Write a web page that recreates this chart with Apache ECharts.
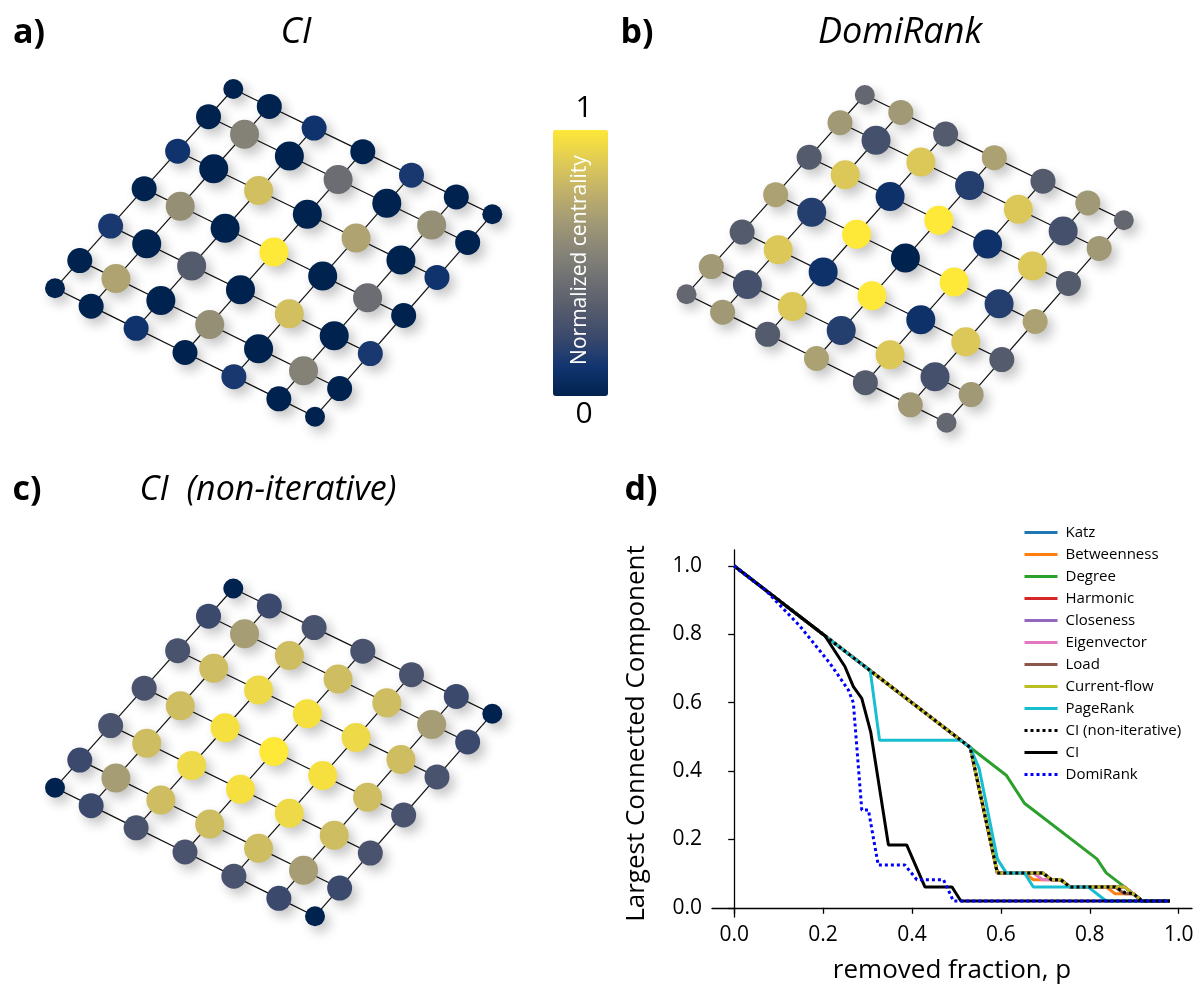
<!DOCTYPE html>
<html>
<head>
<meta charset="utf-8">
<script src="https://cdn.jsdelivr.net/npm/echarts@6/dist/echarts.min.js"></script>
<style>html,body{margin:0;padding:0;background:#fff}#c{width:1201px;height:991px}</style>
</head>
<body>
<div id="c"></div>
<script>
// ---------------- DATA ----------------
// Node centrality on the 7x7 lattice (rows j = 0..6, columns i = 0..6)
const ciValues = [
  [0,    0,    0.10, 0,    0.13, 0,    0   ],
  [0,    0.53, 0,    0.42, 0,    0.60, 0   ],
  [0.10, 0,    0.83, 0,    0.70, 0,    0.10],
  [0,    0.60, 0,    1.00, 0,    0.42, 0   ],
  [0.13, 0,    0.32, 0,    0.83, 0,    0.13],
  [0,    0.70, 0,    0.60, 0,    0.53, 0   ],
  [0,    0,    0.10, 0,    0.13, 0,    0   ]
];
const domiRankValues = [
  [0.39, 0.65, 0.32, 0.69, 0.32, 0.65, 0.39],
  [0.65, 0.26, 0.87, 0.16, 0.87, 0.26, 0.65],
  [0.32, 0.87, 0.09, 1.00, 0.09, 0.87, 0.32],
  [0.69, 0.16, 1.00, 0.00, 1.00, 0.16, 0.69],
  [0.32, 0.87, 0.09, 1.00, 0.09, 0.87, 0.32],
  [0.65, 0.26, 0.87, 0.16, 0.87, 0.26, 0.65],
  [0.39, 0.65, 0.32, 0.69, 0.32, 0.65, 0.39]
];
const ciNonIterValues = [
  [0,    0.22, 0.28, 0.28, 0.28, 0.22, 0   ],
  [0.22, 0.67, 0.82, 0.82, 0.82, 0.67, 0.22],
  [0.28, 0.82, 0.94, 0.97, 0.94, 0.82, 0.28],
  [0.28, 0.82, 0.97, 1.00, 0.97, 0.82, 0.28],
  [0.28, 0.82, 0.94, 0.97, 0.94, 0.82, 0.28],
  [0.22, 0.67, 0.82, 0.82, 0.82, 0.67, 0.22],
  [0,    0.22, 0.28, 0.28, 0.28, 0.22, 0   ]
];

// Panel d: largest connected component vs removed fraction p
const katz        = [[0,1],[0.531,0.469],[0.592,0.102],[0.694,0.102],[0.714,0.082],[0.735,0.082],[0.755,0.061],[0.878,0.061],[0.918,0.02],[0.98,0.02]];
const betweenness = [[0,1],[0.531,0.469],[0.592,0.102],[0.653,0.102],[0.673,0.082],[0.735,0.082],[0.755,0.061],[0.837,0.061],[0.857,0.041],[0.898,0.041],[0.918,0.02],[0.98,0.02]];
const degree      = [[0,1],[0.531,0.469],[0.612,0.388],[0.653,0.306],[0.816,0.143],[0.837,0.102],[0.878,0.061],[0.918,0.02],[0.98,0.02]];
const harmonic    = [[0,1],[0.531,0.469],[0.592,0.102],[0.694,0.102],[0.714,0.082],[0.735,0.082],[0.755,0.061],[0.878,0.061],[0.918,0.02],[0.98,0.02]];
const closeness   = [[0,1],[0.531,0.469],[0.592,0.102],[0.694,0.102],[0.714,0.082],[0.735,0.082],[0.755,0.061],[0.878,0.061],[0.918,0.02],[0.98,0.02]];
const eigenvector = [[0,1],[0.531,0.469],[0.592,0.102],[0.673,0.102],[0.694,0.082],[0.735,0.082],[0.755,0.061],[0.878,0.061],[0.918,0.02],[0.98,0.02]];
const load        = [[0,1],[0.531,0.469],[0.592,0.102],[0.694,0.102],[0.714,0.082],[0.735,0.082],[0.755,0.061],[0.857,0.061],[0.878,0.041],[0.898,0.041],[0.918,0.02],[0.98,0.02]];
const currentFlow = [[0,1],[0.531,0.469],[0.592,0.102],[0.694,0.102],[0.714,0.082],[0.735,0.082],[0.755,0.061],[0.878,0.061],[0.918,0.02],[0.98,0.02]];
const pageRank    = [[0,1],[0.306,0.694],[0.327,0.49],[0.51,0.49],[0.531,0.469],[0.551,0.408],[0.592,0.143],[0.612,0.102],[0.653,0.102],[0.673,0.061],[0.796,0.061],[0.837,0.02],[0.98,0.02]];
const ciNonIter   = [[0,1],[0.531,0.469],[0.592,0.102],[0.694,0.102],[0.714,0.082],[0.735,0.082],[0.755,0.061],[0.857,0.061],[0.878,0.045],[0.898,0.041],[0.918,0.02],[0.98,0.02]];
const ci          = [[0,1],[0.204,0.796],[0.249,0.706],[0.268,0.647],[0.287,0.613],[0.307,0.515],[0.347,0.184],[0.388,0.184],[0.429,0.061],[0.49,0.061],[0.51,0.02],[0.98,0.02]];
const domiRank    = [[0,1],[0.07,0.93],[0.148,0.824],[0.215,0.716],[0.257,0.637],[0.268,0.6],[0.287,0.286],[0.302,0.286],[0.324,0.125],[0.384,0.125],[0.411,0.082],[0.471,0.082],[0.493,0.02],[0.98,0.02]];

const seriesNames = ['Katz','Betweenness','Degree','Harmonic','Closeness','Eigenvector','Load','Current-flow','PageRank','CI (non-iterative)','CI','DomiRank'];
const pTicks = [0, 0.2, 0.4, 0.6, 0.8, 1.0];
const lccTicks = [0, 0.2, 0.4, 0.6, 0.8, 1.0];
const colorbarLabels = ['1', '0'];

// ---------------- STYLE / LAYOUT ----------------
const FONT = '"Open Sans", "Noto Sans", sans-serif';
const cividis = ['#00224e','#123570','#3b496c','#575d6d','#707173','#8a8678','#a59c74','#c3b369','#e1cc55','#fee838'];
const lineStyles = {
  'Katz': {color:'#1f77b4', width:3},
  'Betweenness': {color:'#ff7f0e', width:3},
  'Degree': {color:'#2ca02c', width:3},
  'Harmonic': {color:'#d62728', width:3},
  'Closeness': {color:'#9467bd', width:3},
  'Eigenvector': {color:'#e377c2', width:3},
  'Load': {color:'#8c564b', width:3},
  'Current-flow': {color:'#bcbd22', width:3},
  'PageRank': {color:'#17becf', width:3},
  'CI (non-iterative)': {color:'#000000', width:3, type:[3,3]},
  'CI': {color:'#000000', width:3},
  'DomiRank': {color:'#0000ff', width:3, type:[3,3]}
};
const seriesData = [katz, betweenness, degree, harmonic, closeness, eigenvector, load, currentFlow, pageRank, ciNonIter, ci, domiRank];

// lattice layout (spring-like spacing profile) and panel corners in page pixels
const N = 7;
const profile = [0, 0.139, 0.312, 0.5, 0.688, 0.861, 1];
const baseCorners = {top:[233.3,89], right:[492.3,214.3], left:[55,288.3], bottom:[315,416.7]};
function shifted(dx, dy) {
  const o = {};
  for (const k in baseCorners) o[k] = [baseCorners[k][0] + dx, baseCorners[k][1] + dy];
  return o;
}
const panels = [
  {values: ciValues, corners: shifted(0, 0)},
  {values: domiRankValues, corners: shifted(631.5, 6)},
  {values: ciNonIterValues, corners: shifted(0, 499.5)}
];
function pos(c, i, j) {
  const s = profile[i], t = profile[j];
  const x = (1-s)*(1-t)*c.top[0] + s*(1-t)*c.right[0] + (1-s)*t*c.left[0] + s*t*c.bottom[0];
  const y = (1-s)*(1-t)*c.top[1] + s*(1-t)*c.right[1] + (1-s)*t*c.left[1] + s*t*c.bottom[1];
  return [x, y];
}
function nodeSize(i, j) {
  let deg = 0;
  if (i > 0) deg++; if (i < N-1) deg++; if (j > 0) deg++; if (j < N-1) deg++;
  return deg === 2 ? 20 : (deg === 3 ? 25 : 29);
}
function buildNodes(p) {
  const out = [];
  for (let j = 0; j < N; j++) for (let i = 0; i < N; i++) {
    const xy = pos(p.corners, i, j);
    out.push({value: [xy[0], xy[1], p.values[j][i]], symbolSize: nodeSize(i, j)});
  }
  return out;
}
function buildEdges(p) {
  const out = [];
  for (let j = 0; j < N; j++) for (let i = 0; i < N; i++) {
    if (i < N-1) out.push({coords: [pos(p.corners, i, j), pos(p.corners, i+1, j)]});
    if (j < N-1) out.push({coords: [pos(p.corners, i, j), pos(p.corners, i, j+1)]});
  }
  return out;
}

const series = [];
panels.forEach(function (p) {
  series.push({
    type: 'lines', coordinateSystem: 'cartesian2d', xAxisIndex: 0, yAxisIndex: 0,
    data: buildEdges(p), silent: true, z: 1,
    lineStyle: {color: '#111', width: 1.2, opacity: 1}
  });
});
panels.forEach(function (p) {
  series.push({
    type: 'scatter', xAxisIndex: 0, yAxisIndex: 0, z: 2, silent: true,
    data: buildNodes(p),
    itemStyle: {opacity: 1, shadowBlur: 12, shadowColor: 'rgba(0,0,0,0.24)', shadowOffsetX: 5, shadowOffsetY: 6}
  });
});
seriesNames.forEach(function (name, k) {
  series.push({
    name: name, type: 'line', xAxisIndex: 1, yAxisIndex: 1,
    data: seriesData[k], symbol: 'none', showSymbol: false, z: 3 + k * 0.01,
    lineStyle: lineStyles[name], itemStyle: {color: lineStyles[name].color},
    emphasis: {disabled: true}
  });
});

function label(text, x, y, font, fill) {
  return {type: 'text', x: x, y: y, z: 100,
    style: {text: text, font: font, fill: fill || '#000', textAlign: 'center', textVerticalAlign: 'middle'}};
}

const option = {
  animation: false,
  backgroundColor: '#fff',
  grid: [
    {left: 0, top: 0, width: 1201, height: 991, show: false},
    {left: 712, top: 550, width: 480, height: 367, show: false}
  ],
  xAxis: [
    {gridIndex: 0, type: 'value', min: 0, max: 1201, show: false},
    {gridIndex: 1, type: 'value', min: -0.05, max: 1.03,
     axisLine: {show: true, lineStyle: {color: '#000', width: 1.3}},
     axisTick: {show: true, customValues: pTicks, length: 6, lineStyle: {color: '#000', width: 1.3}},
     axisLabel: {customValues: pTicks, formatter: function (v) { return v.toFixed(1); }, fontSize: 21, color: '#000', fontFamily: FONT, margin: 8},
     splitLine: {show: false},
     name: 'removed fraction, p', nameLocation: 'middle', nameGap: 41,
     nameTextStyle: {fontSize: 26, color: '#000', fontFamily: FONT}}
  ],
  yAxis: [
    {gridIndex: 0, type: 'value', min: 0, max: 991, inverse: true, show: false},
    {gridIndex: 1, type: 'value', min: -0.027, max: 1.047,
     axisLine: {show: true, lineStyle: {color: '#000', width: 1.3}},
     axisTick: {show: true, customValues: lccTicks, length: 6, lineStyle: {color: '#000', width: 1.3}},
     axisLabel: {customValues: lccTicks, formatter: function (v) { return v.toFixed(1); }, fontSize: 21, color: '#000', fontFamily: FONT, margin: 10},
     splitLine: {show: false},
     name: 'Largest Connected Component', nameLocation: 'middle', nameGap: 62,
     nameTextStyle: {fontSize: 26, color: '#000', fontFamily: FONT}}
  ],
  visualMap: {
    type: 'continuous', min: 0, max: 1, dimension: 2, seriesIndex: [3, 4, 5],
    orient: 'vertical', left: 553, top: 130, itemWidth: 55, itemHeight: 266,
    padding: 0, calculable: false, hoverLink: false, showLabel: false, text: null,
    inRange: {color: cividis}
  },
  legend: {
    orient: 'vertical', left: 1018, top: 520, itemWidth: 33, itemHeight: 14, itemGap: 7,
    selectedMode: false, data: seriesNames,
    lineStyle: {width: 3},
    itemStyle: {opacity: 0},
    textStyle: {fontSize: 15, fontFamily: FONT, color: '#000', lineHeight: 14, padding: [0, 0, 0, 3]}
  },
  graphic: [
    label('a)', 29, 33, 'bold 34px ' + FONT),
    label('CI', 296, 33, 'italic 36px ' + FONT),
    label('b)', 637, 33, 'bold 34px ' + FONT),
    label('DomiRank', 900, 33, 'italic 36px ' + FONT),
    label('c)', 27, 490, 'bold 34px ' + FONT),
    label('CI  (non-iterative)', 268, 490, 'italic 34px ' + FONT),
    label('d)', 641, 490, 'bold 34px ' + FONT),
    label(colorbarLabels[0], 584, 108, 'normal 30px ' + FONT),
    label(colorbarLabels[1], 584, 414, 'normal 30px ' + FONT),
    {type: 'text', x: 580, y: 260, rotation: Math.PI / 2, z: 100,
     style: {text: 'Normalized centrality', font: 'normal 21px ' + FONT, fill: '#fff', textAlign: 'center', textVerticalAlign: 'middle'}}
  ],
  series: series
};

const chart = echarts.init(document.getElementById('c'), null, {renderer: 'canvas', width: 1201, height: 991});
chart.setOption(option);
</script>
</body>
</html>
